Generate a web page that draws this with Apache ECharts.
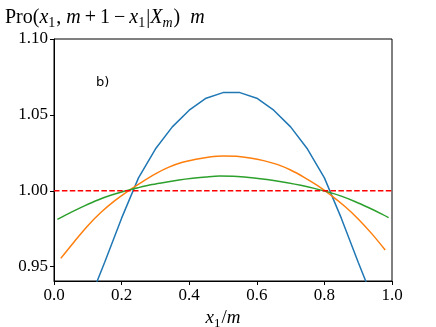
<!DOCTYPE html>
<html>
<head>
<meta charset="utf-8">
<script src="https://cdn.jsdelivr.net/npm/echarts@6/dist/echarts.min.js"></script>
<style>
  html, body { margin: 0; padding: 0; background: #fff; }
  #myChart { width: 436px; height: 327px; }
</style>
</head>
<body>
<div id="myChart"></div>
<script>
// m = 20 (blue)
const blueX = [0.05, 0.10, 0.15, 0.20, 0.25, 0.30, 0.35, 0.40, 0.45, 0.50,
  0.55, 0.60, 0.65, 0.70, 0.75, 0.80, 0.85, 0.90, 0.95, 1.00]
const blueY = [0.893, 0.925, 0.953, 0.982, 1.0085, 1.0275, 1.0421, 1.0531, 1.0610, 1.0647,
  1.0647, 1.0610, 1.0531, 1.0421, 1.0275, 1.0085, 0.982, 0.953, 0.925, 0.893]

// m = 50 (orange)
const orangeX = [0.02, 0.06, 0.10, 0.14, 0.18, 0.22, 0.26, 0.30, 0.34, 0.38, 0.42, 0.46, 0.50,
  0.54, 0.58, 0.62, 0.66, 0.70, 0.74, 0.78, 0.82, 0.86, 0.90, 0.94, 0.98]
const orangeY = [0.9555, 0.9665, 0.9770, 0.9860, 0.9935, 1.0000, 1.0058, 1.0112, 1.0156, 1.0188, 1.0208, 1.0223, 1.0230,
  1.0227, 1.0216, 1.0199, 1.0174, 1.0137, 1.0089, 1.0034, 0.9970, 0.9898, 0.9815, 0.9718, 0.9610]

// m = 100 (green)
const greenX = [0.01, 0.05, 0.09, 0.13, 0.17, 0.21, 0.25, 0.29, 0.33, 0.37, 0.41, 0.45, 0.49,
  0.53, 0.57, 0.61, 0.65, 0.69, 0.73, 0.77, 0.81, 0.85, 0.89, 0.93, 0.97, 0.99]
const greenY = [0.9812, 0.9858, 0.9901, 0.9940, 0.9972, 0.9999, 1.0021, 1.0041, 1.0057, 1.0071, 1.0082, 1.0091, 1.0097,
  1.0096, 1.0089, 1.0080, 1.0068, 1.0053, 1.0036, 1.0016, 0.9993, 0.9965, 0.9930, 0.9890, 0.9847, 0.9824]

// reference line
const refX = [0, 1]
const refY = [1, 1]

const xTicks = [0, 0.2, 0.4, 0.6, 0.8, 1.0]
const yTicks = [0.95, 1.00, 1.05, 1.10]

const serif = '"Liberation Serif", serif'
const pair = (xs, ys) => xs.map((x, i) => [x, ys[i]])

// rich text styles for the math labels
function mathRich(size, sub) {
  return {
    r: { fontFamily: serif, fontSize: size, fontWeight: 'normal', color: '#000', lineHeight: 24 },
    op: { fontFamily: serif, fontSize: size, fontWeight: 'normal', color: '#000', lineHeight: 24, padding: [0, 4, 0, 4] },
    i: { fontFamily: serif, fontSize: size, fontWeight: 'normal', fontStyle: 'italic', color: '#000', lineHeight: 24 },
    s: { fontFamily: serif, fontSize: sub, fontWeight: 'normal', color: '#000', lineHeight: 24, verticalAlign: 'bottom', padding: [0, 1, 0, 0] },
    si: { fontFamily: serif, fontSize: sub, fontWeight: 'normal', fontStyle: 'italic', color: '#000', lineHeight: 24, verticalAlign: 'bottom', padding: [0, 1, 0, 0] }
  }
}

let option = {
  animation: false,
  backgroundColor: '#fff',
  title: {
    left: 0,
    top: 1,
    text: '{r|Pro(}{i|x}{s|1}{r|, }{i|m}{op|+}{r|1}{op|−}{i|x}{s|1}{r||}{i|X}{si|m}{r|)  }{i|m}',
    textStyle: { fontWeight: 'normal', rich: mathRich(20, 14) }
  },
  graphic: [{
    type: 'text',
    left: 96,
    top: 76,
    style: { text: 'b)', fontFamily: 'DejaVu Sans', fontSize: 13, fill: '#000' }
  }],
  grid: {
    left: 54, right: 44, top: 39, bottom: 46,
    containLabel: false,
    outerBoundsMode: 'none',
    show: true,
    borderColor: '#000',
    borderWidth: 1
  },
  xAxis: {
    type: 'value',
    min: 0,
    max: 1,
    interval: 0.2,
    name: '{i|x}{s|1}{r|/}{i|m}',
    nameLocation: 'middle',
    nameGap: 25,
    nameTextStyle: { rich: mathRich(19, 13) },
    axisLine: { show: true, lineStyle: { color: '#000', width: 1 } },
    axisTick: { show: true, length: 4, lineStyle: { color: '#000' }, customValues: xTicks },
    axisLabel: {
      customValues: xTicks,
      formatter: v => v.toFixed(1),
      fontFamily: serif, fontSize: 17, color: '#000', margin: 6
    },
    splitLine: { show: false }
  },
  yAxis: {
    type: 'value',
    min: 0.9406,
    max: 1.10,
    axisLine: { show: true, lineStyle: { color: '#000', width: 1 } },
    axisTick: { show: true, length: 4, lineStyle: { color: '#000' }, customValues: yTicks },
    axisLabel: {
      customValues: yTicks,
      formatter: v => v.toFixed(2),
      fontFamily: serif, fontSize: 17, color: '#000', margin: 6
    },
    splitLine: { show: false }
  },
  series: [
    {
      type: 'line', data: pair(blueX, blueY), showSymbol: false, clip: true,
      lineStyle: { color: '#1f77b4', width: 1.5 }, itemStyle: { color: '#1f77b4' }
    },
    {
      type: 'line', data: pair(orangeX, orangeY), showSymbol: false, clip: true, smooth: 0.3,
      lineStyle: { color: '#ff7f0e', width: 1.5 }, itemStyle: { color: '#ff7f0e' }
    },
    {
      type: 'line', data: pair(greenX, greenY), showSymbol: false, clip: true, smooth: 0.3,
      lineStyle: { color: '#2ca02c', width: 1.5 }, itemStyle: { color: '#2ca02c' }
    },
    {
      type: 'line', data: pair(refX, refY), showSymbol: false, clip: true,
      lineStyle: { color: '#ff0000', width: 1.5, type: [5.5, 2.4] }, itemStyle: { color: '#ff0000' }
    }
  ]
}

const myChart = echarts.init(document.getElementById('myChart'))
myChart.setOption(option)
</script>
</body>
</html>
